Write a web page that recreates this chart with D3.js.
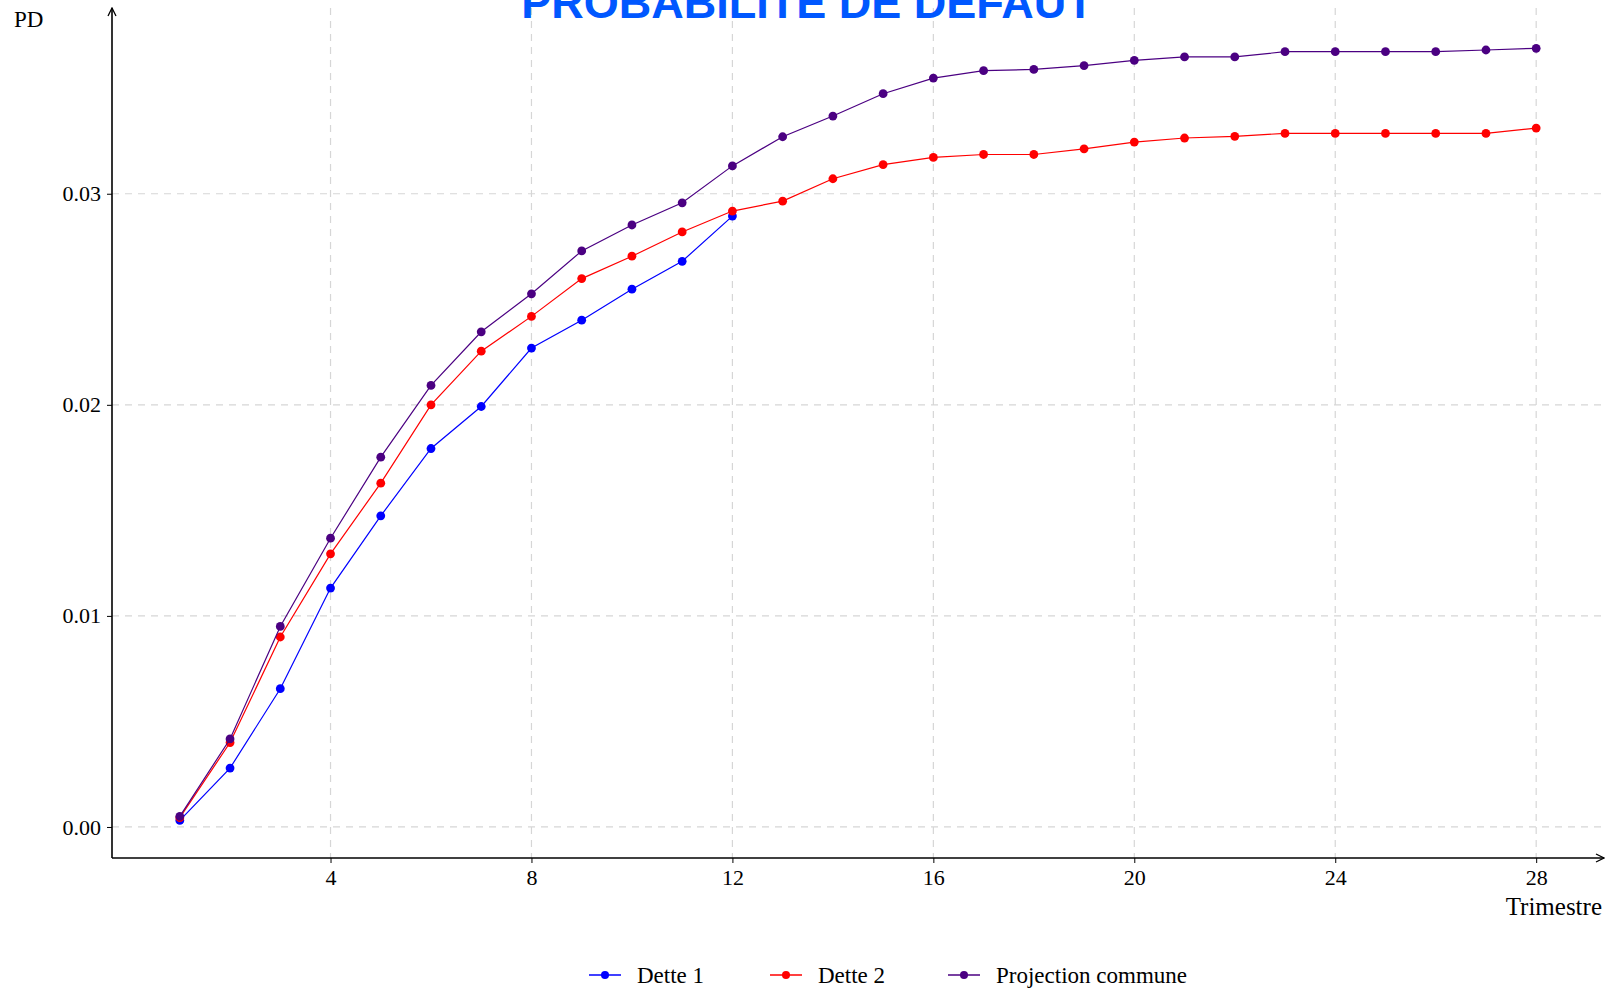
<!DOCTYPE html>
<html>
<head>
<meta charset="utf-8">
<script src="https://cdn.jsdelivr.net/npm/d3@7"></script>
<style>
    body { margin: 0; background: #fff; }
    svg { display: block; }
</style>
</head>
<body>
<div id="chart"></div>
<script>

// --- DONNEES ---

const trimestres = d3.range(1, 29);
const dette1 = [0.00031, 0.00279, 0.00655, 0.01132, 0.01474, 0.01793, 0.01992, 0.02269, 0.02401, 0.02548, 0.02680, 0.02894];
const dette2 = [0.00044, 0.00400, 0.00900, 0.01294, 0.01629, 0.02000, 0.02254, 0.02419, 0.02598, 0.02704, 0.02819, 0.02918,
                0.02965, 0.03071, 0.03138, 0.03172, 0.03186, 0.03186, 0.03213, 0.03245, 0.03264, 0.03272, 0.03286, 0.03286,
                0.03286, 0.03286, 0.03286, 0.03311];
const projection = [0.00050, 0.00417, 0.00950, 0.01368, 0.01752, 0.02092, 0.02346, 0.02526, 0.02729, 0.02852, 0.02957, 0.03132,
                    0.03270, 0.03368, 0.03474, 0.03548, 0.03583, 0.03589, 0.03607, 0.03632, 0.03648, 0.03648, 0.03673, 0.03673,
                    0.03673, 0.03673, 0.03681, 0.03689];
const seriesNames = ["Dette 1", "Dette 2", "Projection commune"];
const seriesColors = ["#0000ff", "#ff0000", "#4b0082"];
const xTicks = [4, 8, 12, 16, 20, 24, 28];
const yTicks = [0, 0.01, 0.02, 0.03];


/**
 * Class LineChartD3
 * Courbes de probabilité de défaut par trimestre
 */
class LineChartD3 {

    margin = {top: 8, right: 11, bottom: 130, left: 112};
    font = "'Liberation Serif', 'Times New Roman', serif";
    size;
    width;
    height;
    svg;
    xScale;
    yScale;
    el;
    pointRadius = 4.4;

    constructor(el){
        this.el = el;
    }

    create(config) {
        this.size = {width: config.size.width, height: config.size.height};
        this.width = this.size.width - this.margin.left - this.margin.right;
        this.height = this.size.height - this.margin.top - this.margin.bottom;

        const root = d3.select(this.el).append("svg")
            .attr("width", this.size.width)
            .attr("height", this.size.height);

        // marqueur pour les flèches des axes
        root.append("defs").append("marker")
            .attr("id", "arrow")
            .attr("viewBox", "0 0 10 10")
            .attr("refX", 9).attr("refY", 5)
            .attr("markerWidth", 10).attr("markerHeight", 10)
            .attr("markerUnits", "userSpaceOnUse")
            .attr("orient", "auto")
            .append("path")
            .attr("d", "M1,1 L9,5 L1,9")
            .attr("fill", "none")
            .attr("stroke", "#000")
            .attr("stroke-width", 1.3);

        this.root = root;
        this.svg = root.append("g")
            .attr("transform", "translate(" + this.margin.left + "," + this.margin.top + ")");

        this.xScale = d3.scaleLinear().domain([-0.35, 29.35]).range([0, this.width]);
        this.yScale = d3.scaleLinear().domain([-0.00147, 0.0388]).range([this.height, 0]);
    }

    renderGrid(){
        const g = this.svg.append("g").attr("class", "grid");
        g.selectAll(".vgrid").data(xTicks).join("line")
            .attr("x1", d => this.xScale(d)).attr("x2", d => this.xScale(d))
            .attr("y1", 0).attr("y2", this.height)
            .attr("stroke", "#d6d6d6").attr("stroke-width", 1.2)
            .attr("stroke-dasharray", "7,6");
        g.selectAll(".hgrid").data(yTicks).join("line")
            .attr("x1", 0).attr("x2", this.width)
            .attr("y1", d => this.yScale(d)).attr("y2", d => this.yScale(d))
            .attr("stroke", "#d6d6d6").attr("stroke-width", 1.2)
            .attr("stroke-dasharray", "7,6");
    }

    renderAxis(){
        const xAxis = this.svg.append("g")
            .attr("transform", "translate(0," + this.height + ")")
            .call(d3.axisBottom(this.xScale).tickValues(xTicks).tickSize(5).tickPadding(6));
        xAxis.select(".domain").remove();
        xAxis.selectAll("text").style("font-family", this.font).style("font-size", "22px").attr("fill", "#000");

        const yAxis = this.svg.append("g")
            .call(d3.axisLeft(this.yScale).tickValues(yTicks).tickSize(5).tickPadding(6).tickFormat(d3.format(".2f")));
        yAxis.select(".domain").remove();
        yAxis.selectAll("text").style("font-family", this.font).style("font-size", "22px").attr("fill", "#000");

        // lignes des axes avec flèches
        this.svg.append("line")
            .attr("x1", 0).attr("x2", this.width)
            .attr("y1", this.height).attr("y2", this.height)
            .attr("stroke", "#000").attr("stroke-width", 1.6)
            .attr("marker-end", "url(#arrow)");
        this.svg.append("line")
            .attr("x1", 0).attr("x2", 0)
            .attr("y1", this.height).attr("y2", 0)
            .attr("stroke", "#000").attr("stroke-width", 1.6)
            .attr("marker-end", "url(#arrow)");

        // titres des axes
        this.root.append("text")
            .attr("x", 14).attr("y", 27)
            .style("font-family", this.font).style("font-size", "23px")
            .text("PD");
        this.root.append("text")
            .attr("x", 1602).attr("y", 915)
            .attr("text-anchor", "end")
            .style("font-family", this.font).style("font-size", "25px")
            .text("Trimestre");
    }

    renderSeries(){
        const data = [dette1, dette2, projection].map((values, i) => ({
            name: seriesNames[i],
            color: seriesColors[i],
            points: values.map((v, j) => ({x: trimestres[j], y: v}))
        }));

        const line = d3.line().x(d => this.xScale(d.x)).y(d => this.yScale(d.y));

        const seriesG = this.svg.selectAll(".serieG")
            .data(data)
            .join("g")
            .attr("class", "serieG");

        seriesG.append("path")
            .attr("d", d => line(d.points))
            .attr("fill", "none")
            .attr("stroke", d => d.color)
            .attr("stroke-width", 1.2);

        seriesG.each((d, i, nodes) => {
            d3.select(nodes[i]).selectAll("circle")
                .data(d.points)
                .join("circle")
                .attr("cx", p => this.xScale(p.x))
                .attr("cy", p => this.yScale(p.y))
                .attr("r", this.pointRadius)
                .attr("fill", d.color);
        });
    }

    renderLegend(){
        const keyX = [589, 770, 948];
        const legend = this.root.append("g").attr("transform", "translate(0,975)");
        const item = legend.selectAll(".legendItem")
            .data(seriesNames)
            .join("g")
            .attr("transform", (d, i) => "translate(" + keyX[i] + ",0)");
        item.append("line")
            .attr("x1", 0).attr("x2", 32)
            .attr("stroke", (d, i) => seriesColors[i]).attr("stroke-width", 1.5);
        item.append("circle")
            .attr("cx", 16).attr("r", 4)
            .attr("fill", (d, i) => seriesColors[i]);
        item.append("text")
            .attr("x", 48).attr("dy", "0.35em")
            .style("font-family", this.font).style("font-size", "23px")
            .text(d => d);
    }

    renderTitle(){
        // le titre est coupé en haut comme dans l'original
        this.root.append("text")
            .attr("x", this.size.width / 2).attr("y", 18)
            .attr("text-anchor", "middle")
            .style("font-family", "'Liberation Sans', Arial, sans-serif")
            .style("font-weight", "bold")
            .style("font-size", "45px")
            .attr("fill", "#0057ff")
            .text("PROBABILITE DE DEFAUT");
    }
}

const chart = new LineChartD3(document.getElementById("chart"));
chart.create({size: {width: 1615, height: 988}});
chart.renderGrid();
chart.renderAxis();
chart.renderSeries();
chart.renderLegend();
chart.renderTitle();

</script>
</body>
</html>
